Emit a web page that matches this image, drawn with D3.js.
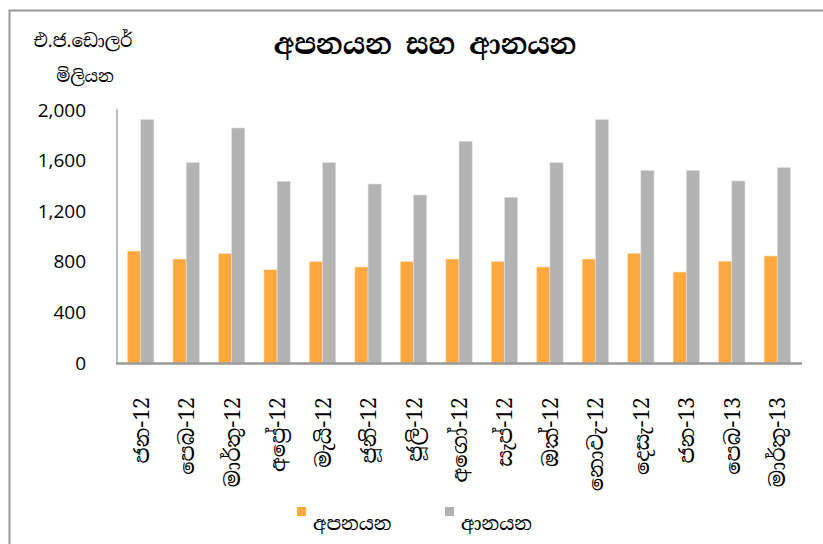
<!DOCTYPE html>
<html>
<head>
<meta charset="utf-8">
<script src="https://cdnjs.cloudflare.com/ajax/libs/d3/7.8.5/d3.min.js"></script>
<style>
  body { margin: 0; background: #fff; }
  svg text { fill: #000; }
</style>
</head>
<body>
<svg id="chart" width="823" height="544"></svg>
<script>
"use strict";

// months (Sinhala abbreviations)
var months = ["ජන-12", "පෙබ-12", "මාර්තු-12", "අප්‍රේ-12", "මැයි-12", "ජූනි-12", "ජූලි-12",
  "අගෝ-12", "සැප්-12", "ඔක්-12", "නොවැ-12", "දෙසැ-12", "ජන-13", "පෙබ-13", "මාර්තු-13"];
// exports, US$ mn
var exportsVals = [885, 822, 865, 738, 802, 759, 802, 822, 802, 759, 822, 867, 719, 804, 846];
// imports, US$ mn
var importsVals = [1924, 1584, 1858, 1436, 1584, 1415, 1328, 1753, 1310, 1584, 1924, 1523, 1523, 1439, 1544];
var yTicks = [0, 400, 800, 1200, 1600, 2000];
var seriesNames = ["අපනයන", "ආනයන"];
var seriesColors = ["#ffa940", "#b3b3b3"];

var svg = d3.select("#chart");
var sinhalaFont = "'Noto Serif Sinhala', 'Iskoola Pota', 'Noto Sans Sinhala', serif";
var numFont = "'Open Sans', 'Noto Sans', sans-serif";

// outer frame
svg.append("rect")
  .attr("x", 9.5).attr("y", 10.5)
  .attr("width", 830).attr("height", 560)
  .style("fill", "none").style("stroke", "#999").style("stroke-width", 2);

var x = d3.scaleBand().domain(months).range([118, 800]).paddingInner(0).paddingOuter(0);
var y = d3.scaleLinear().domain([0, 2000]).range([363, 110]);
var barW = x.bandwidth() * 0.29;

// y axis labels
svg.append("g").selectAll("text")
  .data(yTicks).enter().append("text")
  .attr("x", 86)
  .attr("y", function (d) { return y(d); })
  .attr("dy", "0.35em")
  .attr("text-anchor", "end")
  .style("font-family", numFont)
  .style("font-size", "19px")
  .text(function (d) { return d3.format(",")(d); });

// bars
var groups = svg.append("g").selectAll("g.grp")
  .data(months).enter().append("g")
  .attr("class", "grp");

groups.append("rect")
  .attr("x", function (d) { return x(d) + x.bandwidth() / 2 - barW; })
  .attr("y", function (d, i) { return y(exportsVals[i]); })
  .attr("width", barW)
  .attr("height", function (d, i) { return y(0) - y(exportsVals[i]); })
  .style("fill", seriesColors[0])
  .style("stroke", "#ffe0b8").style("stroke-width", 0.6);

groups.append("rect")
  .attr("x", function (d) { return x(d) + x.bandwidth() / 2; })
  .attr("y", function (d, i) { return y(importsVals[i]); })
  .attr("width", barW)
  .attr("height", function (d, i) { return y(0) - y(importsVals[i]); })
  .style("fill", seriesColors[1])
  .style("stroke", "#e0e0e0").style("stroke-width", 0.6);

// axis lines
svg.append("line")
  .attr("x1", 117).attr("x2", 117).attr("y1", 109).attr("y2", 364)
  .style("stroke", "#aaa").style("stroke-width", 1.5);
svg.append("line")
  .attr("x1", 116).attr("x2", 802).attr("y1", 363.5).attr("y2", 363.5)
  .style("stroke", "#999").style("stroke-width", 2.5);

// x labels, rotated
svg.append("g").selectAll("text")
  .data(months).enter().append("text")
  .attr("transform", function (d) {
    return "translate(" + (x(d) + x.bandwidth() / 2 + 8) + ",397) rotate(-90)";
  })
  .attr("text-anchor", "end")
  .style("font-family", sinhalaFont)
  .style("font-size", "21px")
  .text(function (d) { return d; });

// title
svg.append("text")
  .attr("x", 425).attr("y", 54)
  .attr("text-anchor", "middle")
  .style("font-family", sinhalaFont)
  .style("font-size", "28px")
  .style("font-weight", "bold")
  .text("අපනයන සහ ආනයන");

// y axis title
svg.append("text")
  .attr("x", 83).attr("y", 47)
  .attr("text-anchor", "middle")
  .style("font-family", sinhalaFont)
  .style("font-size", "18px")
  .text("එ.ජ.ඩොලර්");
svg.append("text")
  .attr("x", 85).attr("y", 82)
  .attr("text-anchor", "middle")
  .style("font-family", sinhalaFont)
  .style("font-size", "17px")
  .text("මිලියන");

// legend
var legend = svg.append("g").selectAll("g")
  .data(seriesNames).enter().append("g")
  .attr("transform", function (d, i) { return "translate(" + (297 + i * 148) + ",507)"; });
legend.append("rect")
  .attr("width", 9).attr("height", 9)
  .style("fill", function (d, i) { return seriesColors[i]; });
legend.append("text")
  .attr("x", 16).attr("y", 23)
  .style("font-family", sinhalaFont)
  .style("font-size", "19px")
  .text(function (d) { return d; });
</script>
</body>
</html>
